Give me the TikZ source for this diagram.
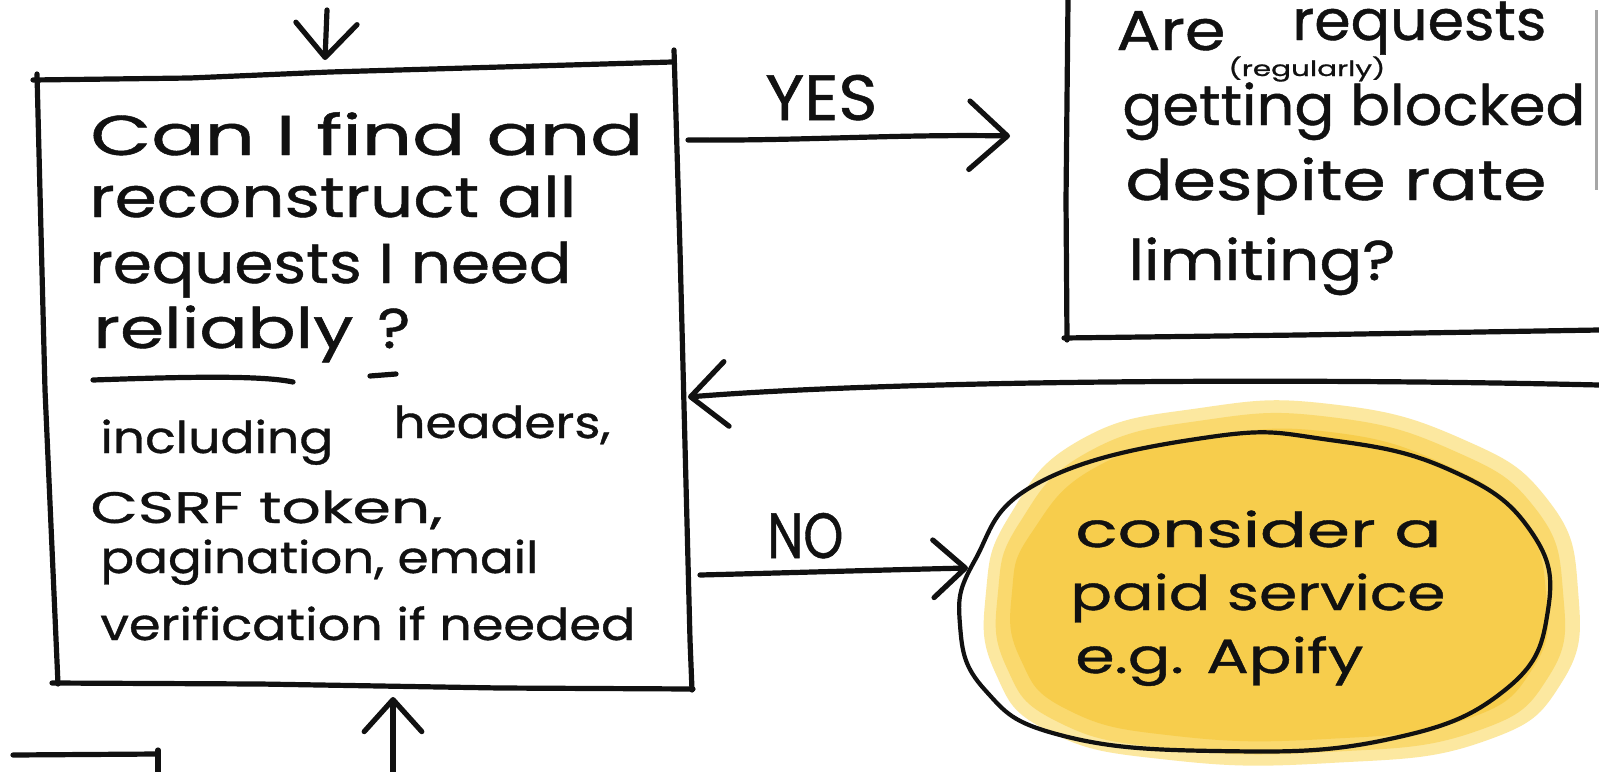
\documentclass[tikz,border=0pt]{standalone}
\usepackage{fontspec}
% a slightly heavier pen for the lettering
\setmainfont{Poppins}[FakeBold=0.8]
\usetikzlibrary{arrows.meta}

% one unit = one pixel of the sketch
\newlength\pxu
\setlength\pxu{0.5pt}
% set a line of lettering to a given width (in units), keeping its height
\newcommand\hw[2]{\resizebox{#1\pxu}{\height}{#2}}

\definecolor{ink}{RGB}{17,17,17}
\definecolor{washlight}{RGB}{252,232,160}
\definecolor{washmid}{RGB}{250,217,110}
\definecolor{washdeep}{RGB}{247,205,76}

\begin{document}
\begin{tikzpicture}[x=0.5pt,y=-0.5pt,
  pen/.style={draw=ink,line width=2.6pt,line cap=round,line join=round},
  finepen/.style={draw=ink,line width=2.1pt,line cap=round,line join=round},
  hand/.style={inner sep=0pt,anchor=base west,text=ink},
  big/.style={hand,font=\fontsize{28pt}{28pt}\selectfont},
  small/.style={hand,font=\fontsize{22pt}{22pt}\selectfont},
  mid/.style={hand,font=\fontsize{24pt}{24pt}\selectfont},
  tiny/.style={hand,font=\fontsize{10.5pt}{10.5pt}\selectfont},
  label/.style={hand,font=\fontsize{32pt}{32pt}\selectfont},
  box/.style={draw=none,inner sep=0pt},
  barb/.style={-{Straight Barb[length=#1,width=1.8*#1,round]}},
]
\useasboundingbox (0,0) rectangle (1599,771);
\fill[white] (0,0) rectangle (1599,771);

% ---------- shapes (invisible nodes carry the names) ----------
\node[box,minimum width=330pt,minimum height=310pt] (q1) at (363,373) {};
\node[box,minimum width=266pt,minimum height=170pt] (q2) at (1333,170) {};
\node[box,minimum width=300pt,minimum height=157pt] (r1) at (1255,593) {};

% main question box
\draw[pen] (37,74) -- (45,390) -- (58,684);
\draw[pen] (33,80) -- (190,78) -- (330,72) -- (672,62);
\draw[pen] (674,50) -- (680,250) -- (690,640) -- (692,690);
\draw[pen] (52,683) -- (260,684) -- (500,688) -- (693,689);

% second question box (runs off the top and right)
\draw[pen] (1068,0) -- (1066,200) -- (1067,340);
\draw[pen] (1064,338) -- (1300,335) -- (1599,330);
\draw[draw=gray!70,line width=1.5pt] (1596,10) -- (1596,190);

% corner of a box below
\draw[pen] (13,755) -- (157,754);
\draw[pen] (158,750) -- (158,775);

% yellow watercolour wash behind the answer, spilling up and to the right
\fill[washlight] plot[smooth cycle,tension=0.8] coordinates {
  (1080,440) (1200,408) (1330,404) (1460,438) (1548,500) (1578,590)
  (1562,682) (1482,742) (1330,763) (1170,760) (1050,732) (995,672)
  (986,592) (1010,515)};
\fill[washmid] plot[smooth cycle,tension=0.8] coordinates {
  (1088,452) (1205,420) (1330,417) (1452,450) (1535,508) (1563,592)
  (1549,676) (1474,732) (1328,752) (1172,749) (1058,722) (1006,666)
  (998,592) (1020,522)};
\fill[washdeep] plot[smooth cycle,tension=0.8] coordinates {
  (1098,466) (1210,436) (1330,432) (1444,464) (1520,518) (1546,594)
  (1533,668) (1464,720) (1326,739) (1176,736) (1068,710) (1020,658)
  (1012,592) (1032,532)};

% answer outline
\draw[finepen] plot[smooth cycle,tension=0.75] coordinates {
  (1210,437) (1330,440) (1450,470) (1530,530) (1548,610) (1505,690)
  (1385,740) (1216,751) (1060,735) (985,690) (960,625) (975,560) (1040,482)};

% ---------- lettering ----------
\node[big] (t1) at (90,155) {\hw{553}{Can I find and}};
\node[big] (t2) at (89,217) {\hw{487}{reconstruct all}};
\node[big] (t3) at (89,283) {\hw{482}{requests I need}};
\node[big] (t4) at (93,348) {\hw{260}{reliably}};
\node[big] (t4q) at (377,348) {\hw{33}{?}};
\draw[pen] (93,380) .. controls (180,377) and (260,375) .. (293,382);
\draw[pen] (370,376) -- (396,374);

\node[small] (t5a) at (100,453) {\hw{233}{including}};
\node[small] (t5b) at (393,438) {\hw{217}{headers,}};
\node[small] (t6) at (90,523) {\hw{352}{CSRF token,}};
\node[small] (t7) at (100,573) {\hw{438}{pagination, email}};
\node[small] (t8) at (100,640) {\hw{535}{verification if needed}};

\node[big] (u1a) at (1116,50) {\hw{109}{Are}};
\node[big] (u1b) at (1292,40) {\hw{254}{requests}};
\node[tiny] (u1c) at (1228,76) {\hw{157}{(regularly)}};
\node[big] (u2) at (1122,125) {\hw{463}{getting blocked}};
\node[big] (u3) at (1125,200) {\hw{421}{despite rate}};
\node[big] (u4) at (1128,280) {\hw{267}{limiting?}};

\node[mid] (v1) at (1075,547) {\hw{366}{consider a}};
\node[mid] (v2) at (1070,610) {\hw{375}{paid service}};
\node[mid] (v3) at (1075,673) {\hw{288}{e.g. Apify}};

\node[label] (lyes) at (765,120) {\hw{112}{YES}};
\node[label] (lno) at (767,558) {\hw{76}{NO}};

% ---------- connectors ----------
\coordinate (intop) at (327,10);
\coordinate (q1top) at (325,60);
\coordinate (q1yes) at (688,140);
\coordinate (q2yes) at (1010,136);
\coordinate (q2back) at (1599,385);
\coordinate (q1back) at (688,397);
\coordinate (q1no) at (700,575);
\coordinate (r1no) at (968,568);
\coordinate (inbot) at (393,775);
\coordinate (q1bot) at (393,697);

\draw[pen,barb=17pt] (intop) -- (q1top);
\draw[pen,barb=19pt] (q1yes) .. controls (800,141) and (900,134) .. (q2yes);
\draw[pen,barb=18pt] (q2back) .. controls (1300,378) and (900,380) .. (q1back);
\draw[pen,barb=16pt] (q1no) .. controls (780,573) and (880,570) .. (r1no);
\draw[pen,barb=16pt] (inbot) -- (q1bot);
\end{tikzpicture}
\end{document}
